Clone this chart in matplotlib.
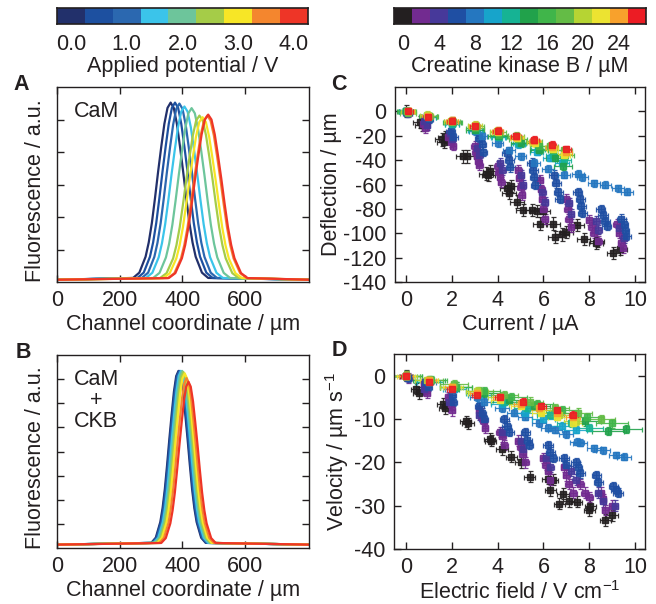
import numpy as np
import matplotlib
matplotlib.use('Agg')
import matplotlib.pyplot as plt
from matplotlib.colors import ListedColormap

plt.rcParams['font.family'] = ['Liberation Sans', 'DejaVu Sans']
plt.rcParams['mathtext.fontset'] = 'custom'
plt.rcParams['mathtext.rm'] = 'Liberation Sans'
plt.rcParams['axes.unicode_minus'] = False
plt.rcParams['text.color'] = '#231f20'
plt.rcParams['axes.labelcolor'] = '#231f20'
plt.rcParams['xtick.color'] = '#231f20'
plt.rcParams['ytick.color'] = '#231f20'

FS_LAB = 15.5
FS_TICK = 15.5

# ---------------------------------------------------------------- colorbars
POT_VALUES = [0.0, 0.5, 1.0, 1.5, 2.0, 2.5, 3.0, 3.5, 4.0]
POT_COLORS = ['#22306b', '#1d50a0', '#2b68b0', '#3bc4ea', '#6dc59b',
              '#a5cc48', '#f7e626', '#f4862e', '#ee3527']
POT_TICKS = ['0.0', '1.0', '2.0', '3.0', '4.0']

CKB_VALUES = [0, 2, 4, 6, 8, 10, 12, 14, 16, 18, 20, 22, 24, 26]
CKB_COLORS = ['#231f20', '#722b90', '#47399a', '#1f4fa3', '#2577c0',
              '#17a4cb', '#16b394', '#21a24b', '#40b54a', '#64bc46',
              '#b6d433', '#ece331', '#f8a12c', '#ec1c24']
CKB_TICKS = ['0', '4', '8', '12', '16', '20', '24']

# ---------------------------------------------------------------- peak shape
# normalised peak profile (offset in widths, rel. height)
PROFILE_OFFSET = [-3.0, -2.5, -2.0, -1.75, -1.5, -1.25, -1.0, -0.75, -0.5,
                  -0.25, 0.0, 0.25, 0.5, 0.75, 1.0, 1.25, 1.5, 1.75, 2.0,
                  2.5, 3.0]
PROFILE_SHAPE = [0.01, 0.04, 0.13, 0.21, 0.32, 0.46, 0.61, 0.75, 0.88,
                 0.97, 1.0, 0.97, 0.88, 0.75, 0.61, 0.46, 0.32, 0.21, 0.13,
                 0.04, 0.01]

# panel A: CaM
A_CENTER = [363, 377, 391, 407, 430, 455, 465, 480, 483]
A_HEIGHT = [5.45, 5.45, 5.42, 5.33, 5.28, 5.05, 5.0, 5.05, 5.08]
A_WIDTH = [40, 40, 40, 41, 41, 42, 42, 42, 42]
A_BASE = 0.07

# panel B: CaM + CKB
B_CENTER = [388, 390, 393, 396, 400, 404, 408, 414, 420]
B_HEIGHT = [7.2, 7.2, 7.2, 7.2, 7.2, 7.15, 7.1, 6.9, 6.75]
B_WIDTH = [29, 29, 29, 29, 29, 29, 29, 29, 29]
B_BASE = 0.14

# ---------------------------------------------------------------- panel C
C_X = [
    [0.0, 0.6, 0.7, 1.55, 1.65, 1.7, 2.5, 2.65, 3.5, 3.6, 3.65, 4.4, 4.5,
     4.6, 4.85, 5.1, 5.5, 5.7, 5.85, 6.0, 6.4, 6.5, 6.8, 7.0, 7.45, 7.75,
     8.3, 8.35, 9.05, 9.35],
    [0.1, 0.75, 0.85, 1.85, 1.95, 2.05, 3.0, 3.05, 3.1, 3.15, 3.2, 4.0, 4.05,
     4.1, 4.15, 4.9, 4.95, 5.0, 5.05, 5.85, 5.9, 5.95, 6.0, 6.05, 7.0, 7.05,
     7.1, 7.2, 8.0, 8.1, 8.2, 8.4, 9.2, 9.3, 9.4, 9.45],
    [0.8, 0.9, 1.9, 2.0, 3.1, 3.2, 4.1, 4.2, 5.0, 5.1, 5.95, 6.05, 7.1, 7.2,
     8.3, 8.4, 9.3, 9.5],
    [0.05, 0.9, 1.0, 1.95, 2.05, 3.2, 3.3, 3.35, 4.4, 4.5, 4.55, 5.5, 5.55,
     5.6, 5.65, 6.45, 6.55, 6.65, 6.7, 7.5, 7.6, 7.65, 7.7, 8.5, 8.6, 8.7,
     8.75, 9.4, 9.5, 9.55, 9.6],
    [0.0, 0.9, 2.0, 3.0, 3.3, 4.0, 4.5, 5.0, 5.6, 6.2, 6.9, 7.5, 7.7, 8.2,
     8.7, 9.25, 9.65],
    [0.0, 1.0, 2.0, 3.0, 4.0, 4.9, 5.7, 6.3, 6.8],
    [0.0, 1.0, 2.0, 3.05, 4.05, 4.95, 5.75, 6.4, 6.9],
    [0.0, 0.95, 2.0, 3.0, 4.0, 5.0, 5.8, 6.5, 6.85],
    [0.05, 1.0, 2.05, 3.0, 4.05, 4.9, 5.8, 6.4, 6.95],
    [0.1, 1.0, 2.0, 3.05, 4.0, 4.8, 5.6, 6.3, 6.9],
    [0.1, 0.9, 1.95, 3.0, 3.95, 4.85, 5.6, 6.35, 6.95],
    [0.1, 0.95, 2.0, 3.0, 4.0, 4.85, 5.65, 6.4, 6.9],
    [0.1, 0.95, 2.0, 3.0, 4.0, 4.8, 5.6, 6.35, 7.0],
    [0.1, 0.95, 2.0, 3.0, 4.0, 4.8, 5.6, 6.35, 7.0],
]
C_Y = [
    [0, -9, -11, -23, -25, -21, -37, -37, -51, -52, -49, -63, -67, -61, -74,
     -81, -81, -82, -92, -82, -92, -103, -101, -99, -93, -105, -108, -106,
     -116, -113],
    [-1, -10, -14, -21, -25, -28, -28, -33, -37, -41, -44, -45, -50, -54,
     -58, -48, -55, -62, -69, -56, -64, -72, -80, -88, -72, -80, -88, -95,
     -89, -95, -100, -106, -92, -100, -108, -112],
    [-8, -11, -18, -23, -30, -36, -42, -48, -52, -60, -66, -74, -75, -84,
     -90, -97, -96, -104],
    [-1, -4, -6, -16, -21, -22, -27, -33, -34, -40, -46, -42, -48, -54, -60,
     -52, -59, -66, -72, -66, -72, -78, -83, -80, -85, -90, -94, -88, -92,
     -97, -102],
    [0, -4, -9, -16, -20, -26, -32, -37, -42, -47, -52, -51, -54, -59, -60,
     -63, -66],
    [0, -5, -10, -15, -21, -27, -33, -38, -42],
    [0, -5, -10, -15, -21, -26, -31, -36, -40],
    [0, -4, -9, -15, -20, -26, -32, -38, -45],
    [0, -4, -9, -14, -19, -23, -28, -32, -36],
    [-1, -4, -8, -12, -17, -20, -24, -28, -32],
    [0, -3, -8, -11, -16, -21, -25, -29, -35],
    [0, -4, -8, -12, -17, -22, -26, -31, -36],
    [0, -4, -8, -12, -16, -21, -24, -29, -33],
    [0, -4.5, -8, -12, -16, -20.5, -23.5, -27.5, -31],
]
C_XERR = [0.3, 0.15, 0.15, 0.2, 0.25, 0.3, 0.3, 0.4, 0.4, 0.35, 0.3, 0.25,
          0.25, 0.2]
C_YERR = [5, 4, 4, 3.5, 3, 3, 3, 3, 3, 3, 3, 3, 3, 3]

# ---------------------------------------------------------------- panel D
D_X = [
    [0.0, 0.45, 0.55, 1.6, 1.7, 2.6, 2.7, 3.65, 3.7, 4.2, 4.6, 5.0, 5.4,
     6.2, 6.3, 6.4, 6.85, 6.7, 7.1, 7.45, 8.0, 8.05, 8.7, 9.0],
    [0.1, 0.8, 0.85, 0.9, 1.85, 1.95, 2.0, 3.2, 3.3, 3.4, 3.45, 4.1, 4.2,
     4.3, 4.9, 5.0, 5.1, 5.2, 6.0, 6.1, 6.2, 6.3, 6.9, 7.0, 7.1, 7.3, 7.6,
     7.8, 8.0, 8.5, 8.6, 8.7, 9.0],
    [0.8, 1.9, 3.2, 4.2, 5.0, 5.1, 6.1, 6.3, 7.2, 7.4, 8.4, 8.6, 9.1],
    [0.1, 0.85, 0.95, 2.0, 2.05, 3.2, 3.3, 3.4, 4.3, 4.4, 4.5, 5.2, 5.3,
     5.35, 6.2, 6.3, 6.4, 6.9, 7.0, 7.4, 7.5, 7.6, 8.3, 8.4, 9.05, 9.15,
     9.25],
    [0.0, 1.0, 2.0, 3.1, 3.4, 4.2, 4.7, 5.2, 5.8, 6.2, 6.5, 7.0, 7.45, 7.6,
     8.2, 8.6, 9.15, 9.5],
    [0.0, 1.0, 2.1, 3.2, 4.2, 5.2, 6.0, 6.8, 7.4],
    [0.0, 1.0, 2.1, 3.2, 4.3, 5.3, 6.3, 7.2, 8.0],
    [0.0, 1.0, 2.2, 3.4, 4.5, 5.6, 6.7, 7.8, 8.8, 9.6],
    [0.0, 1.1, 2.2, 3.4, 4.6, 5.7, 6.8, 7.9, 9.0],
    [0.0, 1.0, 2.1, 3.2, 4.3, 5.4, 6.5, 7.5, 8.5],
    [0.0, 0.9, 2.0, 3.1, 4.1, 5.0, 5.9, 6.7, 7.4],
    [0.0, 1.0, 2.0, 3.1, 4.1, 5.0, 5.9, 6.6, 7.3],
    [0.0, 1.0, 2.0, 3.1, 4.1, 5.0, 5.8, 6.6, 7.3],
    [0.0, 1.0, 2.0, 3.1, 4.1, 5.1, 5.9, 6.6, 7.3],
]
D_Y = [
    [0, -3, -4, -6.5, -7.5, -10.5, -11, -14.5, -15, -17, -18.7, -20, -23.3,
     -23.8, -26.4, -24, -27.2, -29.5, -29, -29.1, -31, -30, -33.3, -32.2],
    [-0.5, -2, -3, -4, -5, -6.5, -8, -8, -9.5, -10.5, -12, -13, -14, -16,
     -15, -16.5, -18, -20, -19, -20.5, -22, -24, -21, -23, -25, -27, -25,
     -27, -28, -27, -28.5, -31, -30],
    [-3, -6, -9, -13, -15, -17, -19, -21, -22, -24, -27, -29, -30],
    [-0.5, -1.5, -2.5, -4.5, -6, -7, -8.5, -10, -10, -11.5, -13, -13, -14.8,
     -16, -16, -17.5, -19, -19, -20.5, -20, -21, -22.5, -23, -24.5, -25.5,
     -26.4, -27],
    [0, -1.5, -3, -5, -6, -7.5, -8.5, -9.5, -11, -12, -12.5, -13.5, -15.2,
     -15.5, -16.8, -17.2, -18.3, -18.7],
    [0, -1.5, -3, -4.5, -6.5, -8.5, -10, -11.5, -12.5],
    [0, -1.5, -2.5, -4, -6, -7.5, -9, -11, -12],
    [0, -1, -2.5, -4, -5.5, -7, -8.5, -10.5, -12.8, -12.3],
    [0, -1, -2.5, -3.5, -5, -6.5, -8, -9.5, -11],
    [0, -1, -2, -3.5, -4.5, -6, -7.5, -8.5, -10],
    [0, -1, -2.5, -3.5, -5, -6.5, -8, -9, -10.5],
    [0, -1, -2.5, -4, -5.5, -7, -8.5, -9.5, -11],
    [0, -1, -2.5, -4, -5, -6.5, -7.5, -8.5, -9.5],
    [0, -1.5, -3, -4.5, -5, -6, -7, -8, -9],
]
D_XERR = [0.25, 0.15, 0.15, 0.2, 0.3, 0.5, 0.6, 0.7, 0.7, 0.6, 0.5, 0.4,
          0.3, 0.2]
D_YERR = [1.3, 1.2, 1.2, 1.0, 0.8, 0.8, 0.8, 1.0, 1.0, 1.0, 0.8, 0.8, 0.8,
          0.8]

W, H = 656, 604


def rect(l, t, r, b):
    return [l / W, 1 - b / H, (r - l) / W, (b - t) / H]


def style_axes(ax):
    for sp in ax.spines.values():
        sp.set_color('#231f20')
        sp.set_linewidth(1.0)
    ax.tick_params(direction='in', top=True, right=True, length=5,
                   width=1.0, labelsize=FS_TICK, pad=6)


def colorbar(ax, colors, ticks, labels, label):
    n = len(colors)
    ax.imshow(np.arange(n)[None, :], cmap=ListedColormap(colors),
              aspect='auto', extent=(-0.5, n - 0.5, 0, 1))
    ax.set_yticks([])
    ax.set_xticks(ticks)
    ax.set_xticklabels(labels)
    ax.tick_params(length=0, labelsize=FS_TICK, pad=7)
    ax.set_xlabel(label, fontsize=FS_LAB, labelpad=1)
    for sp in ax.spines.values():
        sp.set_color('#231f20')
        sp.set_linewidth(1.2)


def peaks(ax, centers, heights, widths, base, colors, xmax):
    off = np.array(PROFILE_OFFSET)
    shp = np.array(PROFILE_SHAPE)
    for c, h, w, col in zip(centers, heights, widths, colors):
        x = np.concatenate([[0], c + w * off, [xmax]])
        y = np.concatenate([[base], base + h * shp, [base]])
        ax.plot(x, y, color=col, lw=1.6, solid_joinstyle='round')


def scatter(ax, xs, ys, xerrs, yerrs):
    for x, y, xe, ye, col in zip(xs, ys, xerrs, yerrs, CKB_COLORS):
        ax.errorbar(x, y, xerr=xe, yerr=ye, fmt='s', ms=4.0, color=col,
                    mec=col, ecolor=col, elinewidth=0.9, capsize=1.8,
                    capthick=0.9, alpha=0.9)


fig = plt.figure(figsize=(W / 100, H / 100), dpi=100)

cb1 = fig.add_axes(rect(57, 8, 308, 24))
colorbar(cb1, POT_COLORS, [0, 2, 4, 6, 8], POT_TICKS,
         'Applied potential / V')
cb2 = fig.add_axes(rect(394, 8, 646, 24))
colorbar(cb2, CKB_COLORS, [0, 2, 4, 6, 8, 10, 12], CKB_TICKS,
         'Creatine kinase B / \u00b5M')

# panel A
axA = fig.add_axes(rect(57, 87, 309, 282))
peaks(axA, A_CENTER, A_HEIGHT, A_WIDTH, A_BASE, POT_COLORS, 805)
axA.set_xlim(0, 805)
axA.set_ylim(0, 6)
axA.set_xticks([0, 200, 400, 600])
axA.set_yticks([1, 2, 3, 4, 5])
axA.set_yticklabels([])
style_axes(axA)
axA.set_xlabel('Channel coordinate / \u00b5m', fontsize=FS_LAB, labelpad=2)
axA.set_ylabel('Fluorescence / a.u.', fontsize=FS_LAB)
axA.yaxis.set_label_coords(-0.045, 0.47)
axA.text(0.065, 0.93, 'CaM', transform=axA.transAxes, fontsize=FS_LAB,
         va='top', ha='left')

# panel B
axB = fig.add_axes(rect(57, 355, 309, 548))
peaks(axB, B_CENTER, B_HEIGHT, B_WIDTH, B_BASE, POT_COLORS, 805)
axB.set_xlim(0, 805)
axB.set_ylim(0, 8)
axB.set_xticks([0, 200, 400, 600])
axB.set_yticks([1, 2, 3, 4, 5, 6, 7])
axB.set_yticklabels([])
style_axes(axB)
axB.set_xlabel('Channel coordinate / \u00b5m', fontsize=FS_LAB, labelpad=2)
axB.set_ylabel('Fluorescence / a.u.', fontsize=FS_LAB)
axB.yaxis.set_label_coords(-0.045, 0.47)
axB.text(0.155, 0.93, 'CaM\n+\nCKB', transform=axB.transAxes,
         fontsize=FS_LAB, va='top', ha='center', linespacing=1.0)

# panel C
axC = fig.add_axes(rect(395, 87, 645, 282))
scatter(axC, C_X, C_Y, C_XERR, C_YERR)
axC.set_xlim(-0.48, 10.43)
axC.set_ylim(-140, 20)
axC.set_xticks([0, 2, 4, 6, 8, 10])
axC.set_yticks([0, -20, -40, -60, -80, -100, -120, -140])
style_axes(axC)
axC.set_xlabel('Current / \u00b5A', fontsize=FS_LAB, labelpad=2)
axC.set_ylabel('Deflection / \u00b5m', fontsize=FS_LAB)
axC.yaxis.set_label_coords(-0.212, 0.5)

# panel D
axD = fig.add_axes(rect(394, 354, 645, 549))
scatter(axD, D_X, D_Y, D_XERR, D_YERR)
axD.set_xlim(-0.52, 10.43)
axD.set_ylim(-40, 5)
axD.set_xticks([0, 2, 4, 6, 8, 10])
axD.set_yticks([0, -10, -20, -30, -40])
style_axes(axD)
axD.set_xlabel('Electric field / V cm$^{\\mathregular{-1}}$',
               fontsize=FS_LAB, labelpad=2)
axD.set_ylabel('Velocity / \u00b5m s$^{\\mathregular{-1}}$', fontsize=FS_LAB)
axD.yaxis.set_label_coords(-0.172, 0.5)

for lab, x, y in [('A', 21, 85), ('B', 23, 353), ('C', 339, 85),
                  ('D', 339, 351)]:
    fig.text(x / W, 1 - y / H, lab, fontsize=15.5, fontweight='bold',
             ha='center', va='center')

fig.savefig('out.png', dpi=100)
